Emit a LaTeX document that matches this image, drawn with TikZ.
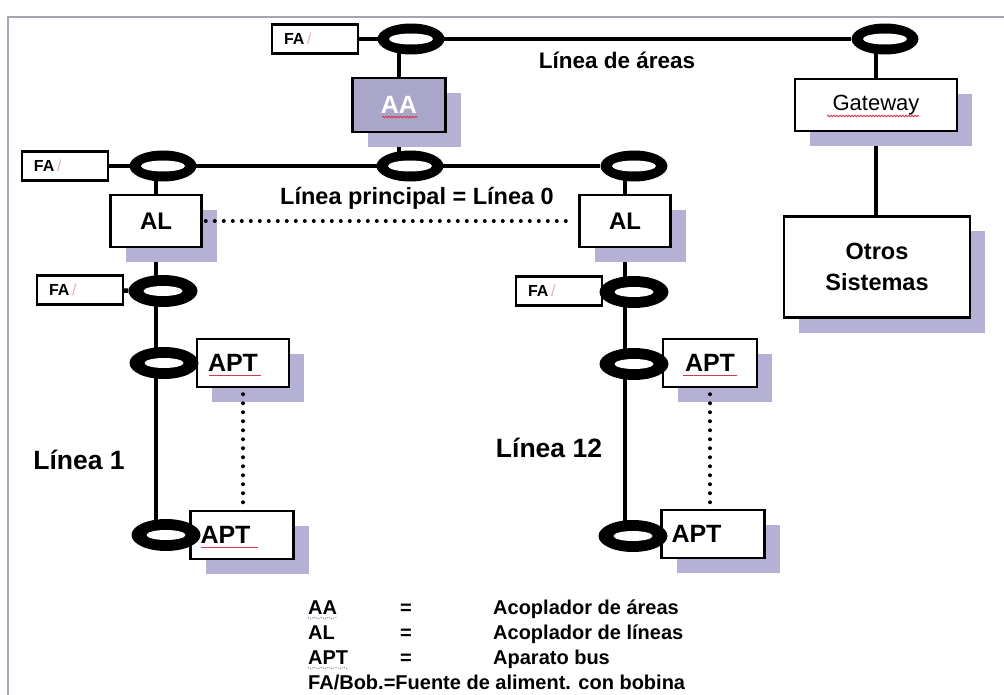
\documentclass[tikz,border=0pt]{standalone}
\usepackage{fontspec}
\setmainfont{Liberation Sans}
\usepackage[HTML]{xcolor}
\usepackage{tikz}
\usetikzlibrary{positioning, shapes.geometric, shadows, decorations.pathmorphing}

\definecolor{shadowc}{HTML}{B5B1D5}
\definecolor{aafill}{HTML}{A9A6C9}
\definecolor{pinkc}{HTML}{E6AFC0}
\definecolor{framec}{HTML}{A4A4B4}
\definecolor{spellred}{HTML}{D8344A}
\definecolor{spellblue}{HTML}{6C7898}

\pgfdeclarelayer{bg}
\pgfsetlayers{bg,main}

\newcommand{\fatext}{FA\,{\color{pinkc}\mdseries/}}

\tikzset{
  bus/.style={line width=4.5pt},
  dotline/.style={line width=4pt, line cap=round, dash pattern=on 0pt off 9pt},
  unit/.style={draw, line width=2.5pt, fill=white, inner sep=0pt,
    drop shadow={shadow xshift=15pt, shadow yshift=-15pt, fill=shadowc, opacity=1}},
  fabox/.style={draw, line width=2.2pt, fill=white, inner sep=0pt, inner xsep=12pt,
    text width=62pt, align=left, minimum height=29pt, font=\fontsize{16}{16}\selectfont\bfseries},
  coil/.style={ellipse, fill=black, inner sep=0pt, minimum width=67pt, minimum height=31pt,
    path picture={\fill[white] (path picture bounding box.center) ellipse (22pt and 5.5pt);}},
  coilb/.style={ellipse, fill=black, inner sep=0pt, minimum width=69pt, minimum height=32pt,
    path picture={\fill[white] (path picture bounding box.center) ellipse (19.5pt and 5pt);}},
  apt/.style={unit, minimum height=48pt, align=left, inner xsep=10pt,
    font=\fontsize{25}{25}\selectfont\bfseries},
  lbl/.style={font=\fontsize{22.5}{22.5}\selectfont\bfseries},
  biglbl/.style={font=\fontsize{26.5}{26.5}\selectfont\bfseries},
  legend/.style={font=\fontsize{20}{20}\selectfont\bfseries, inner sep=0pt},
  squig/.style={draw=spellred, line width=0.9pt, decorate,
    decoration={snake, amplitude=0.7pt, segment length=3pt}}
}

\begin{document}
\begin{tikzpicture}[x=1pt, y=-1pt]
\useasboundingbox (0,0) rectangle (1004,695);
% frame
\draw[framec, line width=1.2pt] (8,695) -- (8,17) -- (1004,17);

% area line
\node[fabox] (fa0) at (315,39) {\fatext};
\node[coil] (ea1) at (411,39) {};
\node[coil] (ea2) at (885,39) {};
\node[lbl] (lar) at (617,60) {Línea de áreas};
\node[unit, fill=aafill, text=white, minimum width=93pt, minimum height=54pt,
  font=\fontsize{25}{25}\selectfont\bfseries] (aa) at (399,105) {AA};
\node[unit, minimum width=162pt, minimum height=52pt,
  font=\fontsize{22}{22}\selectfont] (gw) at (876,105) {Gateway};
\node[unit, minimum width=186pt, minimum height=101pt, align=center,
  font=\fontsize{23.5}{31}\selectfont\bfseries] (os) at (877,267) {Otros\\Sistemas};

% main line
\node[fabox] (fa1) at (65,166) {\fatext};
\node[coil] (em1) at (163,166) {};
\node[coil] (em2) at (410,166) {};
\node[coil] (em3) at (634,166) {};
\node[unit, minimum width=91pt, minimum height=52pt,
  font=\fontsize{24}{24}\selectfont\bfseries] (al1) at (156,221) {AL};
\node[unit, minimum width=91pt, minimum height=52pt,
  font=\fontsize{24}{24}\selectfont\bfseries] (al2) at (625,221) {AL};
\node[font=\fontsize{23.5}{23.5}\selectfont\bfseries] (lpr) at (417,198) {Línea principal = Línea 0};

% line 1
\node[fabox] (fa2) at (80,290) {\fatext};
\node[apt, text width=70pt, inner xsep=11pt] (apt1) at (243,363) {APT};
\node[apt, text width=83pt] (apt2) at (242,535) {APT};
\node[coilb] (e1a) at (163,291) {};
\node[coilb] (e1b) at (164,363) {};
\node[coilb] (e1c) at (166,535) {};
\node[biglbl] (l1) at (79,460) {Línea 1};

% line 12
\node[fabox] (fa3) at (559,291) {\fatext};
\node[apt, text width=74pt, inner xsep=10pt, align=center] (apt3) at (710,363) {APT};
\node[apt, text width=83pt] (apt4) at (713,534) {APT};
\node[coilb] (e2a) at (634,292) {};
\node[coilb] (e2b) at (634,364) {};
\node[coilb] (e2c) at (633,536) {};
\node[biglbl] (l12) at (549,448) {Línea 12};

% bus wiring
\begin{pgfonlayer}{bg}
\draw[bus] (fa0) -- (ea2);
\draw[bus] (aa |- ea1) -- (aa |- em2);
\draw[bus] (gw |- ea2) -- (gw |- os);
\draw[bus] (fa1) -- (em3);
\draw[bus] (al1 |- em1) -- (al1 |- e1c);
\draw[bus] (al2 |- em3) -- (al2 |- e2c);
\draw[bus] (fa2) -- (e1a);
\draw[bus] (fa3) -- (e2a);
\end{pgfonlayer}

% dotted links
\draw[dotline, shorten <=3pt, shorten >=6pt] (al1.east) -- (al2.west);
\draw[dotline, shorten <=6pt, shorten >=4pt] (apt1.south) -- (apt1.south |- apt2.north);
\draw[dotline, shorten <=6pt, shorten >=4pt] (apt3.south) -- (apt3.south |- apt4.north);

% spell marks
\draw[squig] ([xshift=-17pt,yshift=-12pt]aa.center) -- ++(36,0);
\draw[squig] ([xshift=-49pt,yshift=-11pt]gw.center) -- ++(92,0);
\draw[spellred, line width=0.8pt] ([xshift=-34pt,yshift=-12pt]apt1.center) -- ++(52,0);
\draw[spellred, line width=0.8pt] ([xshift=-41pt,yshift=-12pt]apt2.center) -- ++(57,0);
\draw[spellred, line width=0.8pt] ([xshift=-27pt,yshift=-12pt]apt3.center) -- ++(54,0);

% legend
\node[legend, anchor=base west] (kaa) at (308,614) {AA};
\node[legend, anchor=base] (qaa) at (406,614) {=};
\node[legend, anchor=base west] (daa) at (493,614) {Acoplador de áreas};
\node[legend, anchor=base west] (kal) at (308,639) {AL};
\node[legend, anchor=base] (qal) at (406,639) {=};
\node[legend, anchor=base west] (dal) at (493,639) {Acoplador de líneas};
\node[legend, anchor=base west] (kapt) at (308,664) {APT};
\node[legend, anchor=base] (qapt) at (406,664) {=};
\node[legend, anchor=base west] (dapt) at (493,664) {Aparato bus};
\node[legend, anchor=base west] (kfa) at (308,689) {FA/Bob.=Fuente de aliment. con bobina};
\draw[squig, draw=spellblue, dotted] ([yshift=-4pt]kaa.base west) -- ([yshift=-4pt]kaa.base east);
\draw[squig, draw=spellblue, dotted] ([yshift=-4pt]kapt.base west) -- ([yshift=-4pt]kapt.base east);
\end{tikzpicture}
\end{document}
